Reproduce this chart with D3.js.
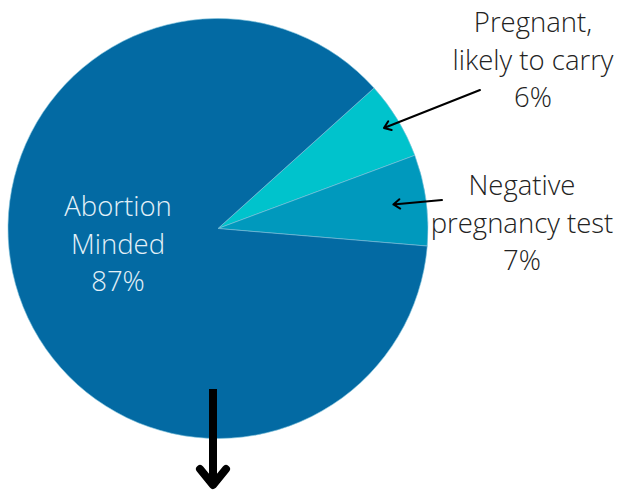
<!DOCTYPE html>
<html>
<head>
<meta charset="utf-8">
<script src="https://cdn.jsdelivr.net/npm/d3@7"></script>
<style>
  body { margin: 0; background: #fff; }
  text { font-family: "Open Sans", sans-serif; font-weight: 300; }
</style>
</head>
<body>
<div id="chart"></div>
<script>
// slice data, in drawing order (clockwise from the upper right)
var categories = ["Pregnant, likely to carry", "Negative pregnancy test", "Abortion Minded"];
var values = [6, 7, 87];
var labelLines = [["Pregnant,", "likely to carry", "6%"],
                  ["Negative", "pregnancy test", "7%"],
                  ["Abortion", "Minded", "87%"]];
var colors = ["#00c3cc", "#0099bd", "#036aa3"];

var width = 618, height = 492;
var cx = 218, cy = 228.5, radius = 210;

var svg = d3.select("#chart")
  .append("svg")
    .attr("width", width)
    .attr("height", height);

var g = svg.append("g")
    .attr("transform", "translate(" + cx + "," + cy + ")");

var start = 48 * Math.PI / 180;
var pie = d3.pie()
  .sort(null)
  .startAngle(start)
  .endAngle(start + 2 * Math.PI);

var arcs = pie(values);

var arc = d3.arc()
  .innerRadius(0)
  .outerRadius(radius);

g.selectAll("path.slice")
  .data(arcs)
  .enter()
  .append("path")
  .attr("class", "slice")
  .attr("d", arc)
  .attr("fill", function(d, i) { return colors[i]; })
  .attr("stroke", "#7fc3dc")
  .attr("stroke-width", 0.6);

// label blocks (absolute page positions of each text block)
var labelPos = [{x: 533, y: 32}, {x: 522, y: 195}, {x: 118, y: 216}];
var lineH = 37.5;

labelPos.forEach(function(p, i) {
  var t = svg.append("text")
    .attr("text-anchor", "middle")
    .attr("font-size", "27.5px")
    .attr("fill", i == 2 ? "#e4f1f8" : "#222");
  labelLines[i].forEach(function(s, k) {
    t.append("tspan")
      .attr("x", p.x)
      .attr("y", p.y + k * lineH)
      .text(s);
  });
});

// annotation arrows, tips placed on the slice mid angle
var tipR = [194, 177];
var tails = [[480, 90], [442, 200]];

function drawArrow(x1, y1, x2, y2, w, head) {
  var ang = Math.atan2(y2 - y1, x2 - x1);
  var a1 = ang + Math.PI * 0.8, a2 = ang - Math.PI * 0.8;
  svg.append("path")
    .attr("d", "M" + x1 + "," + y1 + "L" + x2 + "," + y2 +
               "M" + (x2 + head * Math.cos(a1)) + "," + (y2 + head * Math.sin(a1)) +
               "L" + x2 + "," + y2 +
               "L" + (x2 + head * Math.cos(a2)) + "," + (y2 + head * Math.sin(a2)))
    .attr("fill", "none")
    .attr("stroke", "#000")
    .attr("stroke-width", w)
    .attr("stroke-linecap", "round")
    .attr("stroke-linejoin", "round");
}

[0, 1].forEach(function(i) {
  var mid = (arcs[i].startAngle + arcs[i].endAngle) / 2;
  var tx = cx + tipR[i] * Math.sin(mid);
  var ty = cy - tipR[i] * Math.cos(mid);
  drawArrow(tails[i][0], tails[i][1], tx, ty, 2, 8);
});

// big arrow pointing down out of the pie
svg.append("line")
  .attr("x1", 213).attr("y1", 389)
  .attr("x2", 213).attr("y2", 484)
  .attr("stroke", "#000")
  .attr("stroke-width", 8);
svg.append("path")
  .attr("d", "M200,469L213,485L226,469")
  .attr("fill", "none")
  .attr("stroke", "#000")
  .attr("stroke-width", 8)
  .attr("stroke-linecap", "round")
  .attr("stroke-linejoin", "round");
</script>
</body>
</html>
